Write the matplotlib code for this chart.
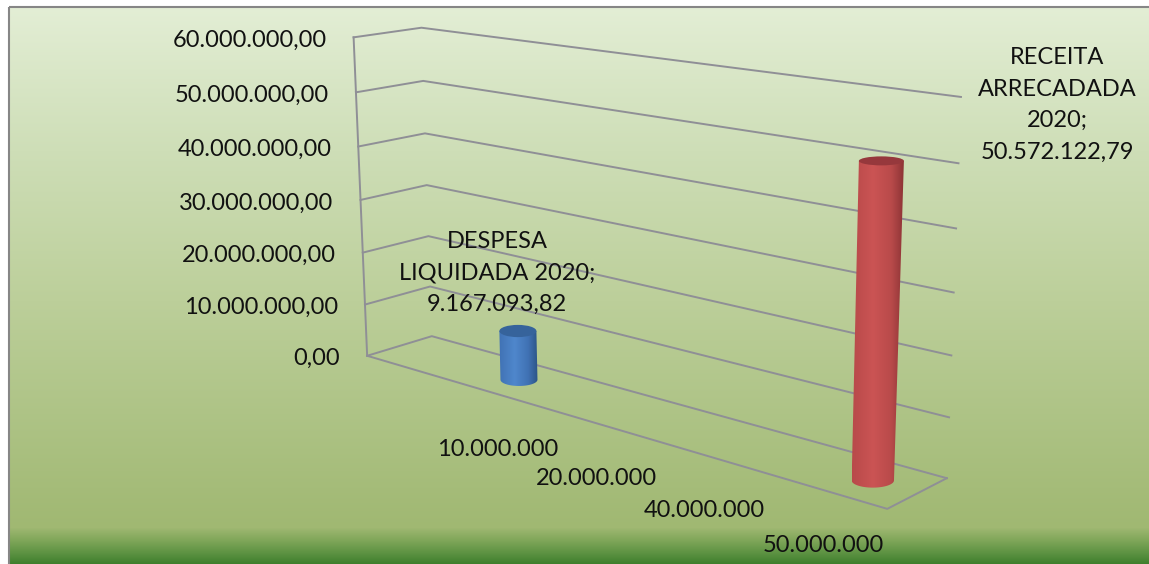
import numpy as np
import matplotlib
matplotlib.use('Agg')
import matplotlib.pyplot as plt
from matplotlib.patches import Ellipse, Polygon, Rectangle
from matplotlib.colors import LinearSegmentedColormap

plt.rcParams['font.family'] = ['Lato', 'DejaVu Sans']

# data
categories = ['10.000.000', '20.000.000', '40.000.000', '50.000.000']
despesa = [9167093.82, 0, 0, 0]
receita = [0, 0, 0, 50572122.79]
value_ticks = [0, 10000000, 20000000, 30000000, 40000000, 50000000, 60000000]
value_labels = ['0,00', '10.000.000,00', '20.000.000,00', '30.000.000,00',
                '40.000.000,00', '50.000.000,00', '60.000.000,00']
zmax = 60000000.0

# camera fit: box corners (u, v, z) -> where they land on the picture
box = [(0, 0, 0), (1, 0, 0), (1, 1, 0), (0, 1, 0), (0, 0, 1), (0, 1, 1), (1, 1, 1)]
pix = [(367, 356), (887, 509), (947, 478), (432, 336), (354, 37), (421, 28), (961, 97)]

rows = []
for (u, v, z), (px, py) in zip(box, pix):
    rows.append([u, v, z, 1, 0, 0, 0, 0, -px*u, -px*v, -px*z, -px])
    rows.append([0, 0, 0, 0, u, v, z, 1, -py*u, -py*v, -py*z, -py])
P = np.linalg.svd(np.array(rows, dtype=float))[2][-1].reshape(3, 4)


def proj(u, v, val):
    q = P @ np.array([u, v, val/zmax, 1.0])
    return q[0]/q[2], q[1]/q[2]


def bar_u(i):
    return 0.272 + i*0.2192


def label_u(i):
    return 0.188 + i*0.21


fig = plt.figure(figsize=(11.49, 5.64), dpi=100)
ax = fig.add_axes([0, 0, 1, 1])
ax.set_xlim(0, 1149)
ax.set_ylim(564, 0)
ax.axis('off')

# background gradient
stops_y = [7, 150, 300, 527, 540, 552, 564]
stops_r = [0xE3, 0xCE, 0xBC, 0xA0, 0x7F, 0x5E, 0x3D]
stops_g = [0xEE, 0xDE, 0xCF, 0xB8, 0xA6, 0x93, 0x7E]
stops_b = [0xD5, 0xB7, 0x9A, 0x72, 0x59, 0x43, 0x2C]
yy = np.arange(7, 564)
grad = np.stack([np.interp(yy, stops_y, c)/255 for c in (stops_r, stops_g, stops_b)], axis=1)
ax.imshow(grad[:, None, :], extent=(9, 1149, 564, 7), aspect='auto', zorder=0)
ax.set_xlim(0, 1149)
ax.set_ylim(564, 0)
ax.add_patch(Rectangle((8.5, 6.5), 1150, 560, fill=False, ec='#868686', lw=1.5, zorder=1))

# walls and floor
grid = '#8f8f96'
for t in value_ticks:
    a, b, c = proj(0, 0, t), proj(0, 1, t), proj(1, 1, t)
    ax.plot([a[0], b[0], c[0]], [a[1], b[1], c[1]], color=grid, lw=1.4, zorder=2)
a, b = proj(0, 0, 0), proj(0, 0, zmax)
ax.plot([a[0], b[0]], [a[1], b[1]], color=grid, lw=1.4, zorder=2)
a, b, c = proj(0, 0, 0), proj(1, 0, 0), proj(1, 1, 0)
ax.plot([a[0], b[0], c[0]], [a[1], b[1], c[1]], color=grid, lw=1.4, zorder=2)


def cylinder(i, val, light, mid, dark, top_col, r_factor):
    u = bar_u(i)
    x0, y0 = proj(u, 0.5, 0)
    x1, y1 = proj(u, 0.5, val)
    rb = r_factor*0.94 if val > zmax/2 else r_factor
    rt = r_factor
    hb = rb*0.34
    ht = rt*0.2 if val > zmax/2 else rt*0.33
    t = np.linspace(0, np.pi, 40)
    lower = np.column_stack([x0 + rb*np.cos(t), y0 + hb*np.sin(t)])
    outline = np.vstack([[[x1 + rt, y1]], lower, [[x1 - rt, y1]]])
    poly = Polygon(outline, closed=True, transform=ax.transData, fc='none', ec='none', zorder=3)
    ax.add_patch(poly)
    cmap = LinearSegmentedColormap.from_list('c', [(0, mid), (0.4, light), (0.75, mid), (1, dark)])
    xl, xr = min(x0 - rb, x1 - rt), max(x0 + rb, x1 + rt)
    im = ax.imshow(np.linspace(0, 1, 128)[None, :], cmap=cmap, aspect='auto', zorder=3,
                   extent=(xl, xr, y0 + hb + 1, y1 - 1))
    im.set_clip_path(poly)
    ax.add_patch(Ellipse((x1, y1), 2*rt, 2*ht, fc=top_col, ec='none', zorder=4))
    ax.set_xlim(0, 1149)
    ax.set_ylim(564, 0)
    return x1, y1


tops = {}
for i, val in enumerate(despesa):
    if val:
        tops['d'] = cylinder(i, val, '#4f87cc', '#4072b4', '#2c5486', '#36639b', 18.5)
for i, val in enumerate(receita):
    if val:
        tops['r'] = cylinder(i, val, '#cb5454', '#b84a4a', '#8a3234', '#96383c', 22.5)

# axis text
fs = 17
for t, lab in zip(value_ticks, value_labels):
    x, y = proj(0, 0, t)
    ax.text(x - 27, y + 3, lab, ha='right', va='center', fontsize=fs, color='#111111', zorder=5)
for i, lab in enumerate(categories):
    x, y = proj(label_u(i), 0, 0)
    ax.text(x + 50, y + 70, lab, ha='center', va='center', fontsize=fs, color='#111111', zorder=5)

# data labels
x, y = tops['d']
ax.text(x - 21, y - 58, 'DESPESA\nLIQUIDADA 2020;\n9.167.093,82', ha='center', va='center',
        fontsize=fs, color='#111111', linespacing=1.62, zorder=5)
x, y = tops['r']
ax.text(x + 176, y - 56, 'RECEITA\nARRECADADA\n2020;\n50.572.122,79', ha='center', va='center',
        fontsize=fs, color='#111111', linespacing=1.62, zorder=5)

fig.savefig('out.png', dpi=100, facecolor='white')
